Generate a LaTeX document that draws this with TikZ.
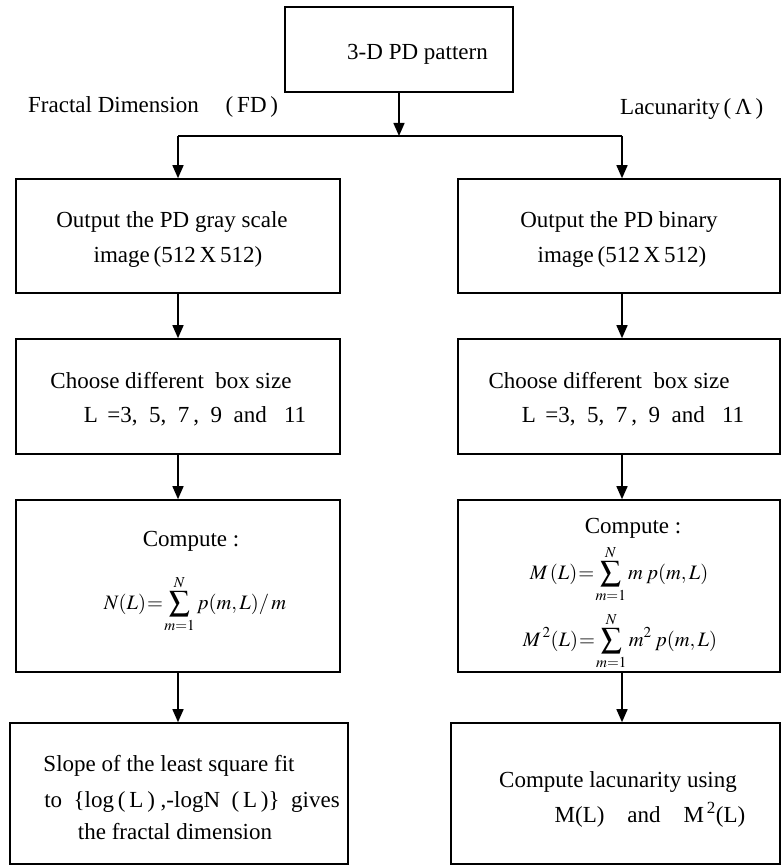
\documentclass[tikz,border=0pt]{standalone}
\usepackage{mathptmx}
\usepackage{fontspec}
\setmainfont{Liberation Serif}
\usetikzlibrary{arrows.meta}

% tight spacing round = and operators in the formulas
\newcommand{\tightmu}{\thickmuskip=1mu\relax\medmuskip=1mu\relax}

\tikzset{
  box/.style={draw, line width=1.6pt, inner sep=0pt},
  conn/.style={line width=1.5pt},
  arr/.style={conn, -{Triangle[width=11pt,length=13pt]}},
  txt/.style={anchor=base, inner sep=0pt, font=\fontsize{23}{27}\selectfont},
  eq/.style={anchor=center, inner sep=0pt, font=\fontsize{20.5}{24}\selectfont},
}

\begin{document}
\begin{tikzpicture}[x=1pt, y=-1pt]
\useasboundingbox (0,0) rectangle (781,866);

% frames of the flow chart
\node[box, minimum width=228pt, minimum height=85pt]  (tp) at (399,49.5) {};
\node[box, minimum width=324pt, minimum height=114pt] (l1) at (178,236) {};
\node[box, minimum width=324pt, minimum height=115pt] (l2) at (178,396.5) {};
\node[box, minimum width=324pt, minimum height=172pt] (l3) at (178,586) {};
\node[box, minimum width=338pt, minimum height=141pt] (l4) at (179,793.5) {};
\node[box, minimum width=322pt, minimum height=114pt] (r1) at (619,236) {};
\node[box, minimum width=322pt, minimum height=115pt] (r2) at (619,396.5) {};
\node[box, minimum width=322pt, minimum height=172pt] (r3) at (619,586) {};
\node[box, minimum width=329pt, minimum height=141pt] (r4) at (615.5,793.5) {};

% texts
\node[txt] (ttop) at (417.5,60) {3-D PD pattern};
\node[txt, anchor=base west] (fd) at (28,113) {Fractal Dimension\hspace{27pt}(\,FD\,)};
\node[txt, anchor=base west] (lac) at (620,115) {Lacunarity\,(\,Λ\,)};

\node[txt] (l1a) at (172,228) {Output the PD gray scale};
\node[txt] (l1b) at (178,262) {image\,(512\,X\,512)};
\node[txt] (r1a) at (619,228) {Output the PD binary};
\node[txt] (r1b) at (622,262) {image\,(512\,X\,512)};

\node[txt] (l2a) at (171,388) {Choose different \ box size};
\node[txt] (l2b) at (195,422) {L \,=3, \ 5, \ 7\,, \ 9 \ and \ \ 11};
\node[txt] (r2a) at (609,388) {Choose different \ box size};
\node[txt] (r2b) at (633,422) {L \,=3, \ 5, \ 7\,, \ 9 \ and \ \ 11};

\node[txt] (l3a) at (191,546) {Compute :};
\node[eq] (l3b) at (195,604) {$\tightmu\displaystyle N(L)=\sum_{m=1}^{N}p(m,L)/\,m$};
\node[txt] (r3a) at (633,533) {Compute :};
\node[eq] (r3b) at (619,574) {$\tightmu\displaystyle M\,(L)=\sum_{m=1}^{N}m\;\,p(m,L)$};
\node[eq] (r3c) at (620,641) {$\tightmu\displaystyle M^{\,2}(L)=\sum_{m=1}^{N}m^{2}\;\,p(m,L)$};

\node[txt] (l4a) at (169,771) {Slope of the least square fit};
\node[txt] (l4b) at (192,807) {to \ \{log\,(\,L\,)\ ,-logN \ (\,L\,)\} \ gives};
\node[txt] (l4c) at (175,839) {the fractal dimension};
\node[txt] (r4a) at (618,787) {Compute lacunarity using};
\node[txt] (r4b) at (650,822) {M(L)\quad and\quad M\textsuperscript{\,2}(L)};

% connectors
\coordinate (split) at (399,136);
\draw[arr] (tp.south) -- (split);
\draw[conn] (split) -- (l1.north |- split);
\draw[conn] (split) -- (622,136) coordinate (rsplit);
\draw[arr] (l1.north |- split) -- (l1.north);
\draw[arr] (rsplit) -- (rsplit |- r1.north);

\draw[arr] (l1.south) -- (l2.north);
\draw[arr] (l2.south) -- (l3.north);
\draw[arr] (l3.south) -- (l3.south |- l4.north);

\draw[arr] (rsplit |- r1.south) -- (rsplit |- r2.north);
\draw[arr] (rsplit |- r2.south) -- (rsplit |- r3.north);
\draw[arr] (rsplit |- r3.south) -- (rsplit |- r4.north);
\end{tikzpicture}
\end{document}
